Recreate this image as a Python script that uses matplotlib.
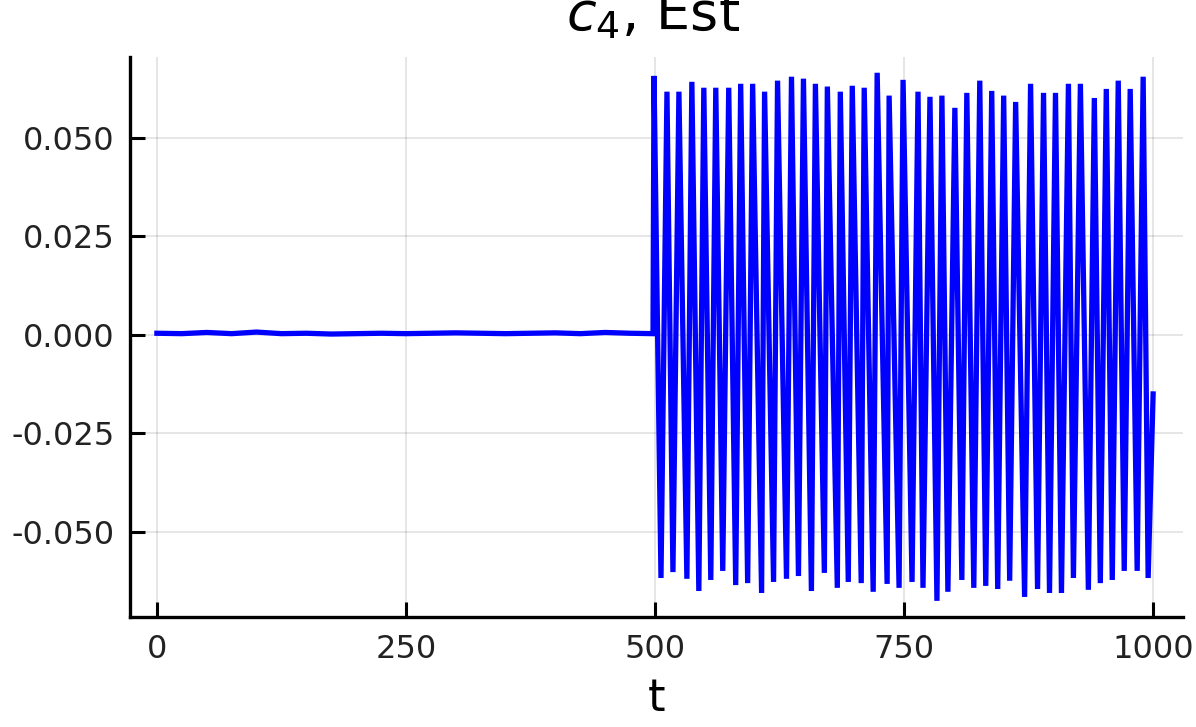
import matplotlib
matplotlib.use("Agg")
import matplotlib.pyplot as plt
import numpy as np

# ---- data ----
flat_t = [0, 25, 50, 75, 100, 125, 150, 175, 200, 225, 250, 275, 300, 325,
          350, 375, 400, 425, 450, 475, 498]
flat_v = [0.0004, 0.0003, 0.0006, 0.0003, 0.0007, 0.0003, 0.0004, 0.0002,
          0.0003, 0.0004, 0.0003, 0.0004, 0.0005, 0.0004, 0.0003, 0.0004,
          0.0005, 0.0003, 0.0006, 0.0004, 0.0003]

peak_t = [499, 512, 524, 537, 549, 561, 574, 586, 598, 610, 623, 637, 649, 661,
          673, 686, 698, 710, 723, 735, 749, 764, 776, 788, 801, 813, 826, 838,
          850, 862, 877, 890, 902, 915, 927, 941, 953, 965, 977, 990]
peak_v = [0.0657, 0.0617, 0.0617, 0.0642, 0.0627, 0.0627, 0.0627, 0.0637,
          0.0637, 0.0617, 0.0645, 0.0655, 0.0650, 0.0637, 0.0630, 0.0617,
          0.0632, 0.0627, 0.0665, 0.0607, 0.0647, 0.0617, 0.0604, 0.0607,
          0.0576, 0.0614, 0.0645, 0.0619, 0.0607, 0.0591, 0.0637, 0.0614,
          0.0614, 0.0637, 0.0637, 0.0601, 0.0624, 0.0645, 0.0624, 0.0655]

trough_t = [506, 518, 532, 544, 556, 568, 581, 593, 607, 619, 632, 644, 657,
            670, 683, 694, 707, 719, 733, 745, 758, 769, 783, 794, 808, 820,
            832, 844, 856, 871, 884, 896, 908, 920, 935, 947, 959, 971, 984, 995]
trough_v = [-0.0617, -0.0602, -0.0619, -0.0650, -0.0622, -0.0599, -0.0635,
            -0.0630, -0.0655, -0.0627, -0.0619, -0.0612, -0.0650, -0.0604,
            -0.0642, -0.0627, -0.0630, -0.0652, -0.0632, -0.0642, -0.0627,
            -0.0642, -0.0675, -0.0652, -0.0622, -0.0642, -0.0637, -0.0645,
            -0.0624, -0.0665, -0.0645, -0.0655, -0.0655, -0.0617, -0.0647,
            -0.0630, -0.0622, -0.0599, -0.0599, -0.0617]

end_t = [1000]
end_v = [-0.0150]

xticks = [0, 250, 500, 750, 1000]
yticks = [-0.050, -0.025, 0.000, 0.025, 0.050]

# ---- assemble series ----
t = list(flat_t)
v = list(flat_v)
for pt, pv, tt, tv in zip(peak_t, peak_v, trough_t, trough_v):
    t += [pt, tt]
    v += [pv, tv]
t += end_t
v += end_v

fig = plt.figure(figsize=(11.96, 7.27), dpi=100)
ax = fig.add_axes([130 / 1196, 1 - 617 / 727, (1183 - 130) / 1196, (617 - 57) / 727])

ax.plot(t, v, color=(0, 0, 1), lw=3.8, solid_joinstyle="miter")

ax.set_xlim(-27, 1030)
ax.set_ylim(-0.0716, 0.0705)
ax.set_xticks(xticks)
ax.set_yticks(yticks)
ax.set_yticklabels([f"{y:.3f}" for y in yticks])
ax.grid(True, color="black", alpha=0.1, lw=1.4)
for s in ["top", "right"]:
    ax.spines[s].set_visible(False)
for s in ["left", "bottom"]:
    ax.spines[s].set_linewidth(2.4)
ax.tick_params(direction="in", length=11, width=2.2, labelsize=23, pad=11,
               colors="black")
ax.tick_params(axis="x", pad=12)
for lab in ax.get_xticklabels() + ax.get_yticklabels():
    lab.set_color("#222222")

ax.set_xlabel("t", fontsize=32, labelpad=9)
fig.text(0.546, 1 - 30 / 727, r"$c_4$, Est", fontsize=39, ha="center", va="baseline")

fig.savefig("out.png", dpi=100)
